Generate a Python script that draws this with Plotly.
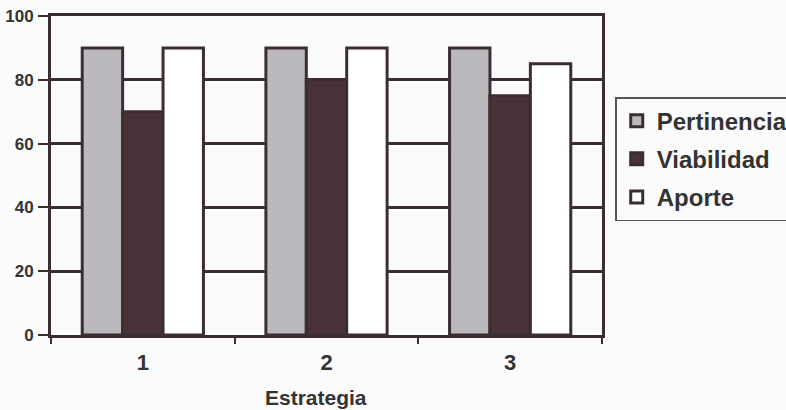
import plotly.graph_objects as go

# Valoración de cada estrategia por criterio
estrategias = ["1", "2", "3"]
pertinencia = [90, 90, 90]
viabilidad = [70, 80, 75]
aporte = [90, 90, 85]

series_names = ["Pertinencia", "Viabilidad", "Aporte"]
series_values = [pertinencia, viabilidad, aporte]
series_colors = ["#bcb9be", "#4a3338", "#ffffff"]

ink = "#3b2e33"
text_color = "#333333"
font_family = "Liberation Sans, Arial, sans-serif"

fig = go.Figure()
for name, vals, col in zip(series_names, series_values, series_colors):
    fig.add_trace(go.Bar(
        x=estrategias,
        y=vals,
        name=name,
        legendgroup=name,
        marker=dict(color=col, line=dict(color=ink, width=3)),
    ))

fig.update_layout(
    width=786,
    height=410,
    margin=dict(l=51, r=184, t=16, b=75, autoexpand=False),
    paper_bgcolor="#fbfbfb",
    plot_bgcolor="#fbfbfb",
    barmode="group",
    bargap=0.34,
    bargroupgap=0,
    font=dict(family=font_family, color=text_color),
    showlegend=True,
    legend=dict(
        x=1.024, xanchor="left",
        y=0.746, yanchor="top",
        bgcolor="#fbfbfb",
        bordercolor="#555555",
        borderwidth=1.5,
        font=dict(size=24, weight="bold", color=text_color, family=font_family),
        traceorder="grouped",
        tracegroupgap=4,
        itemwidth=30,
    ),
    xaxis=dict(
        type="category",
        automargin=False,
        showline=True, linecolor=ink, linewidth=3, mirror=True,
        ticks="outside", tickson="boundaries", ticklen=6, tickcolor=ink, tickwidth=1.5,
        tickfont=dict(size=22, weight="bold", color=text_color),
        ticklabelstandoff=6,
        showgrid=False,
    ),
    yaxis=dict(
        range=[0, 100],
        dtick=20,
        automargin=False,
        showline=True, linecolor=ink, linewidth=3, mirror=True,
        showgrid=True, gridcolor=ink, gridwidth=3,
        zeroline=False,
        ticks="outside", ticklen=10, tickcolor=ink, tickwidth=1.5,
        ticklabelstandoff=1,
        tickfont=dict(size=17, weight="bold", color=text_color),
    ),
    annotations=[dict(
        text="Estrategia",
        xref="paper", yref="paper",
        x=0.481, y=-0.197,
        xanchor="center", yanchor="middle",
        showarrow=False,
        font=dict(size=21, weight="bold", color=text_color, family=font_family),
    )],
)

fig.write_html("out.html")
